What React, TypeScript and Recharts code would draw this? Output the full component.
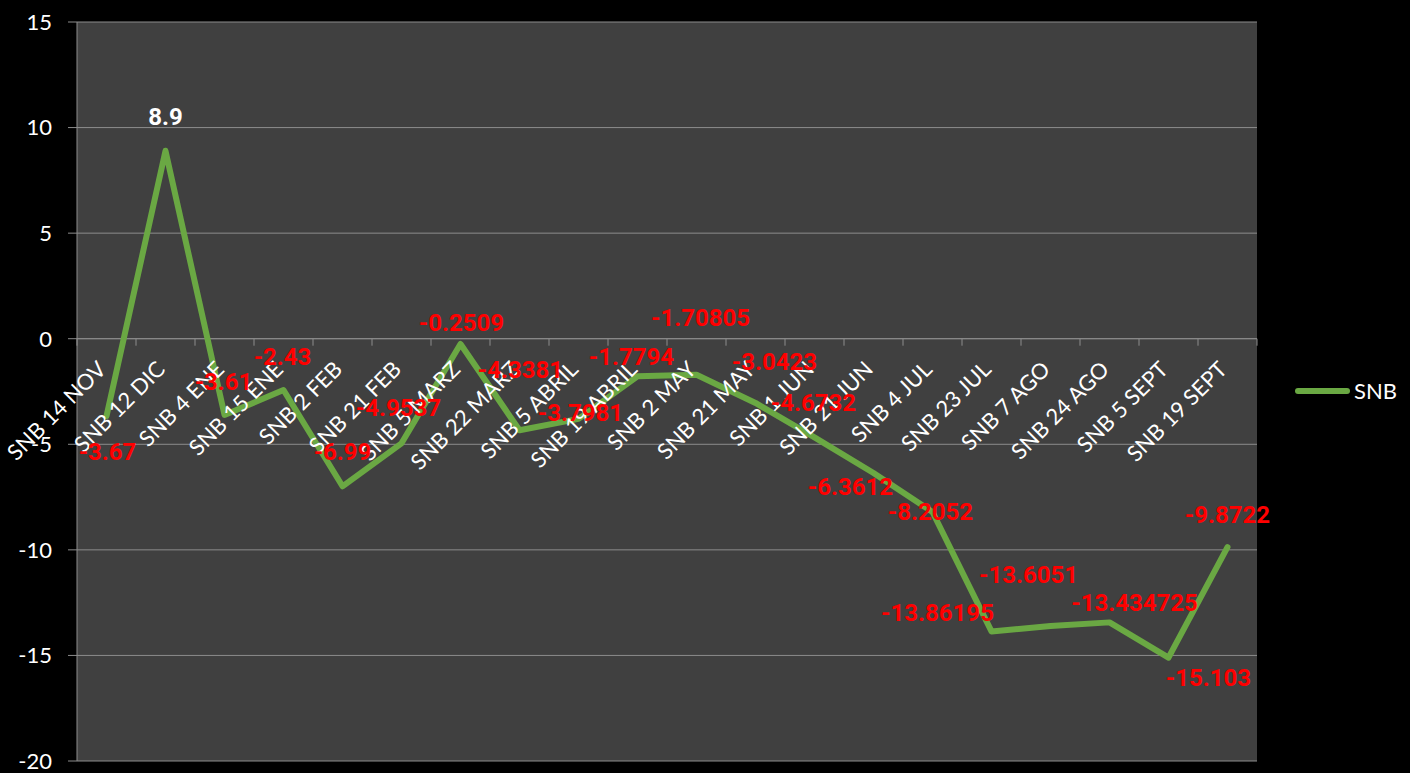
import React from "react"
import {
  LineChart,
  Line,
  XAxis,
  YAxis,
  CartesianGrid,
  Legend,
  LabelList,
  ReferenceLine,
} from "recharts"

const categories = [
  "SNB 14 NOV", "SNB 12 DIC", "SNB 4 ENE", "SNB 15 ENE", "SNB 2 FEB",
  "SNB 21 FEB", "SNB 5 MARZ", "SNB 22 MARZ", "SNB 5 ABRIL", "SNB 19 ABRIL",
  "SNB 2 MAY", "SNB 21 MAY", "SNB 1 JUN", "SNB 21 JUN", "SNB 4 JUL",
  "SNB 23 JUL", "SNB 7 AGO", "SNB 24 AGO", "SNB 5 SEPT", "SNB 19 SEPT",
]

const snbValues = [
  -3.67, 8.9, -3.61, -2.43, -6.99,
  -4.9537, -0.2509, -4.3381, -3.7981, -1.7794,
  -1.70805, -3.0423, -4.6732, -6.3612, -8.2052,
  -13.86195, -13.6051, -13.434725, -15.103, -9.8722,
]

const yTicks = [-20, -15, -10, -5, 0, 5, 10, 15]

// where each data label was dragged to, relative to its point (dx, dy)
const labelOffsets = [
  [1, 36], [0, -34], [-1, -33], [-1, -33], [0, -34],
  [-3, -35], [1, -21], [1, -60], [2, -6], [-6, -19],
  [4, -57], [19, -41], [-1, -34], [-23, 14], [-2, 0],
  [-54, -18], [-22, -51], [25, -19], [40, 20], [0, -32],
]

const data = categories.map((name, i) => ({ name, SNB: snbValues[i] }))

const W = 1410
const H = 773
const M = { top: 22, right: 153, bottom: 11, left: 0 }
const Y_AXIS_W = 77
const X_AXIS_H = 1
const PLOT_W = W - M.left - M.right - Y_AXIS_W
const PLOT_H = H - M.top - M.bottom - X_AXIS_H
const Y_MIN = -20
const Y_MAX = 15
const ZERO_Y = M.top + (PLOT_H * Y_MAX) / (Y_MAX - Y_MIN)
const BAND = PLOT_W / categories.length

const FONT = "Lato, 'Open Sans', sans-serif"
const LABEL_FONT = "Roboto, 'Open Sans', sans-serif"
const GRID = "#8c8c8c"
const GREEN = "#6aa843"

function CategoryTick(props: any) {
  const { x, index, payload } = props
  const isLast = index === categories.length - 1
  const ax = x - 5
  const ay = ZERO_Y + 26
  return (
    <g>
      <line x1={x - BAND / 2} x2={x - BAND / 2} y1={ZERO_Y} y2={ZERO_Y + 7} stroke={GRID} />
      {isLast && (
        <line x1={x + BAND / 2} x2={x + BAND / 2} y1={ZERO_Y} y2={ZERO_Y + 7} stroke={GRID} />
      )}
      <text
        x={ax}
        y={ay}
        transform={`rotate(-45 ${ax} ${ay})`}
        textAnchor="end"
        dominantBaseline="central"
        fill="#ffffff"
        fontSize={22}
        fontFamily={FONT}
      >
        {payload.value}
      </text>
    </g>
  )
}

function PointLabel(props: any) {
  const { x, y, index, value } = props
  const [dx, dy] = labelOffsets[index] || [0, -34]
  return (
    <text
      x={x + dx}
      y={y + dy}
      textAnchor="middle"
      dominantBaseline="central"
      fill={index === 1 ? "#ffffff" : "#ff0000"}
      fontSize={24}
      fontWeight="bold"
      fontFamily={LABEL_FONT}
    >
      {value}
    </text>
  )
}

function LegendContent() {
  return (
    <div style={{ display: "flex", alignItems: "center", fontFamily: FONT }}>
      <div style={{ width: 55, height: 6, borderRadius: 3, background: GREEN }} />
      <span style={{ color: "#ffffff", fontSize: 22, marginLeft: 4 }}>SNB</span>
    </div>
  )
}

export default function App() {
  return (
    <div style={{ position: "absolute", left: 0, top: 0, width: W, height: H, background: "#000000" }}>
      <LineChart width={W} height={H} data={data} margin={M}>
        <CartesianGrid vertical={false} stroke={GRID} fill="#404040" fillOpacity={1} />
        <XAxis
          dataKey="name"
          height={X_AXIS_H}
          interval={0}
          padding={{ left: BAND / 2, right: BAND / 2 }}
          axisLine={false}
          tickLine={false}
          tick={<CategoryTick />}
        />
        <YAxis
          width={Y_AXIS_W}
          domain={[Y_MIN, Y_MAX]}
          ticks={yTicks}
          interval={0}
          tickSize={9}
          tickMargin={16}
          axisLine={{ stroke: GRID }}
          tickLine={{ stroke: GRID }}
          tick={{ fill: "#ffffff", fontSize: 22, fontFamily: FONT }}
        />
        <ReferenceLine y={0} stroke={GRID} />
        <Legend
          layout="vertical"
          align="center"
          verticalAlign="middle"
          content={<LegendContent />}
          wrapperStyle={{ left: 1295, top: 377, width: "auto" }}
        />
        <Line
          type="linear"
          dataKey="SNB"
          stroke={GREEN}
          strokeWidth={6}
          strokeLinejoin="round"
          strokeLinecap="round"
          dot={false}
          activeDot={false}
          isAnimationActive={false}
        >
          <LabelList dataKey="SNB" content={<PointLabel />} />
        </Line>
      </LineChart>
    </div>
  )
}
